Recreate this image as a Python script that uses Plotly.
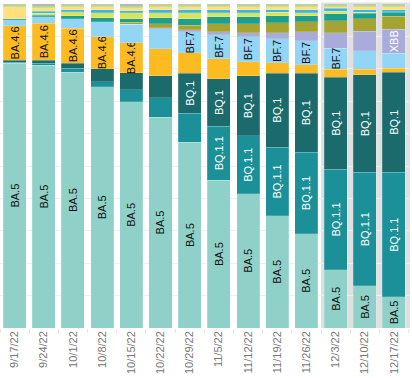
import plotly.graph_objects as go

weeks = ["9/17/22", "9/24/22", "10/1/22", "10/8/22", "10/15/22", "10/22/22", "10/29/22",
         "11/5/22", "11/12/22", "11/19/22", "11/26/22", "12/3/22", "12/10/22", "12/17/22"]

# shares (%) per week, stacked bottom -> top
BA_5      = [81.7, 81.1, 78.9, 74.5, 69.8, 65.1, 57.3, 45.6, 41.5, 34.7, 29.1, 18.0, 13.0, 9.6]
BQ_1_1    = [0.4, 0.6, 1.2, 1.5, 3.7, 5.9, 9.0, 16.7, 17.8, 21.1, 25.1, 31.0, 35.0, 38.4]
BQ_1      = [0.6, 0.9, 1.6, 4.0, 5.3, 6.8, 12.4, 14.6, 18.6, 22.9, 24.5, 28.4, 30.1, 31.0]
BA_4_6    = [10.6, 11.5, 10.8, 9.9, 9.3, 8.4, 6.2, 6.2, 4.3, 3.1, 2.5, 2.5, 1.8, 1.2]
BF_7      = [1.8, 1.9, 2.9, 4.6, 5.6, 6.2, 6.5, 7.4, 7.7, 7.4, 7.4, 6.5, 5.7, 4.6]
XBB       = [0, 0, 0, 0, 0, 0.3, 0.6, 0.9, 1.2, 1.9, 2.8, 4.8, 6.0, 7.4]
BN_1      = [0, 0, 0, 0, 0.6, 1.2, 1.5, 2.5, 2.8, 3.1, 3.1, 3.7, 3.8, 4.0]
BA_2_75   = [0.3, 0.6, 1.0, 1.2, 1.2, 1.9, 2.0, 2.2, 2.2, 2.2, 1.9, 2.1, 1.7, 1.2]
BA_2_75_2 = [0, 0.6, 1.2, 1.6, 1.8, 1.5, 1.8, 1.2, 1.2, 1.0, 0.9, 0.7, 0.3, 0.2]
BA_5_2_6  = [0, 0.6, 0.6, 0.9, 0.6, 0.9, 0.9, 0.9, 0.9, 0.8, 0.9, 1.0, 0.8, 0.6]
BA_4      = [3.7, 1.1, 0.9, 0.9, 0.9, 0.9, 0.9, 0.9, 0.9, 1.0, 0.9, 0.4, 0.9, 0.9]
BA_2      = [0.6, 0.6, 0.6, 0.6, 0.6, 0.6, 0.6, 0.6, 0.6, 0.5, 0.6, 0.6, 0.6, 0.6]
Other     = [0.3, 0.5, 0.3, 0.3, 0.6, 0.3, 0.3, 0.3, 0.3, 0.3, 0.3, 0.3, 0.3, 0.3]

# which weeks show a label inside the segment
label_weeks = {
    "BA.5": weeks,
    "BQ.1.1": weeks[7:],
    "BQ.1": weeks[6:],
    "BA.4.6": weeks[:5],
    "BF.7": weeks[6:12],
    "XBB": weeks[13:],
}

series = [
    ("BA.5", BA_5, "#8fd1c8", "#111111"),
    ("BQ.1.1", BQ_1_1, "#1b9098", "#ffffff"),
    ("BQ.1", BQ_1, "#1c6b6c", "#ffffff"),
    ("BA.4.6", BA_4_6, "#fdbb22", "#111111"),
    ("BF.7", BF_7, "#93d5f5", "#111111"),
    ("XBB", XBB, "#a9abdb", "#ffffff"),
    ("BN.1", BN_1, "#a5a332", "#111111"),
    ("BA.2.75", BA_2_75, "#1e9e8c", "#111111"),
    ("BA.2.75.2", BA_2_75_2, "#d8e35c", "#111111"),
    ("BA.5.2.6", BA_5_2_6, "#3ab6ef", "#111111"),
    ("BA.4", BA_4, "#ffdf7e", "#111111"),
    ("BA.2", BA_2, "#b6da7c", "#111111"),
    ("Other", Other, "#aaa6b0", "#111111"),
]

fig = go.Figure()
for name, vals, color, tcolor in series:
    shown = label_weeks.get(name, [])
    texts = [name if w in shown else "" for w in weeks]
    fig.add_trace(go.Bar(
        x=weeks, y=vals, name=name,
        marker=dict(color=color, line=dict(width=0.5, color="rgba(255,255,255,0.35)")),
        text=texts, textposition="inside", insidetextanchor="middle",
        textangle=-90,
        textfont=dict(color=tcolor, size=11, family="Liberation Sans, Arial, sans-serif"),
        hoverinfo="skip",
    ))

fig.add_shape(type="rect", xref="x", yref="paper", x0=10.5, x1=13.55, y0=0, y1=1.005,
              fillcolor="#e0e0e0", line=dict(width=0), layer="below")

fig.update_layout(
    barmode="stack", bargap=0.21,
    width=412, height=378,
    margin=dict(l=0, r=2, t=4, b=50),
    paper_bgcolor="white", plot_bgcolor="white",
    showlegend=False,
    uniformtext=dict(minsize=11, mode="show"),
    font=dict(family="Liberation Sans, Arial, sans-serif"),
)
fig.update_xaxes(type="category", tickangle=-90,
                 tickfont=dict(size=11, color="#777777"),
                 ticks="outside", tickson="boundaries", ticklen=4, tickcolor="#e4e4e4",
                 showgrid=False, showline=False)
fig.update_yaxes(range=[0, 100], dtick=10, showticklabels=False,
                 showgrid=True, gridcolor="#efefef", zeroline=False)

fig.write_html("out.html", config={"displayModeBar": False},
               post_script="document.body.style.margin='0px';document.body.style.overflow='hidden';")
